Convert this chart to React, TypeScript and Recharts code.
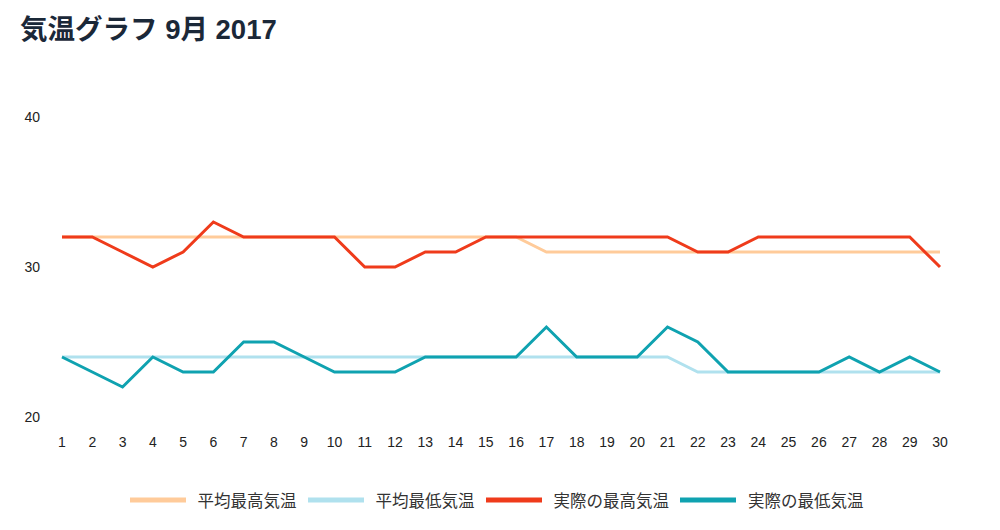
import React from 'react';
import { LineChart, Line, XAxis, YAxis, Legend } from 'recharts';

const days = Array.from({ length: 30 }, (_, i) => String(i + 1));
const avgHigh = [32, 32, 32, 32, 32, 32, 32, 32, 32, 32, 32, 32, 32, 32, 32, 32, 31, 31, 31, 31, 31, 31, 31, 31, 31, 31, 31, 31, 31, 31];
const avgLow = [24, 24, 24, 24, 24, 24, 24, 24, 24, 24, 24, 24, 24, 24, 24, 24, 24, 24, 24, 24, 24, 23, 23, 23, 23, 23, 23, 23, 23, 23];
const actualHigh = [32, 32, 31, 30, 31, 33, 32, 32, 32, 32, 30, 30, 31, 31, 32, 32, 32, 32, 32, 32, 32, 31, 31, 32, 32, 32, 32, 32, 32, 30];
const actualLow = [24, 23, 22, 24, 23, 23, 25, 25, 24, 23, 23, 23, 24, 24, 24, 24, 26, 24, 24, 24, 26, 25, 23, 23, 23, 23, 24, 23, 24, 23];
const yTicks = [20, 30, 40];

const seriesList = [
  { key: 'avgHigh', name: '平均最高気温', color: '#ffcb9a' },
  { key: 'avgLow', name: '平均最低気温', color: '#b0e1ee' },
  { key: 'actualHigh', name: '実際の最高気温', color: '#ef3b1b' },
  { key: 'actualLow', name: '実際の最低気温', color: '#0fa2b0' },
];

const chartData = days.map((d, i) => ({
  day: d,
  avgHigh: avgHigh[i],
  avgLow: avgLow[i],
  actualHigh: actualHigh[i],
  actualLow: actualLow[i],
}));

const FONT = '"Liberation Sans", "Noto Sans CJK JP", sans-serif';

const renderLegend = () => (
  <div style={{ display: 'flex', justifyContent: 'center', alignItems: 'center', height: 24 }}>
    {seriesList.map((s, i) => (
      <div key={s.key} style={{ display: 'flex', alignItems: 'center', marginLeft: i === 0 ? 0 : 11 }}>
        <svg width={56} height={6} style={{ marginRight: 12 }}>
          <line x1={0} y1={3} x2={56} y2={3} stroke={s.color} strokeWidth={5} />
        </svg>
        <span style={{ fontSize: 16.5, color: '#333', fontFamily: FONT, whiteSpace: 'nowrap' }}>{s.name}</span>
      </div>
    ))}
  </div>
);

const App: React.FC = () => {
  return (
    <div style={{ position: 'absolute', left: 0, top: 0, width: 1000, height: 530, background: '#fff', fontFamily: FONT }}>
      <div
        style={{
          position: 'absolute',
          left: 20,
          top: 14,
          fontSize: 27.5,
          lineHeight: '32px',
          fontWeight: 'bold',
          color: '#1b2838',
          zIndex: 2,
          whiteSpace: 'nowrap',
        }}
      >
        気温グラフ 9月 2017
      </div>
      <LineChart width={1000} height={530} data={chartData} margin={{ top: 117, right: 60, bottom: 18, left: 0 }}>
        <XAxis
          dataKey="day"
          height={71}
          tickLine={false}
          axisLine={false}
          tickSize={0}
          tickMargin={20}
          interval={0}
          tick={{ fontSize: 14, fill: '#222', fontFamily: FONT }}
        />
        <YAxis
          width={62}
          domain={[20, 40]}
          ticks={yTicks}
          tickLine={false}
          axisLine={false}
          tickSize={0}
          tickMargin={22}
          tick={{ fontSize: 14, fill: '#222', fontFamily: FONT }}
        />
        <Legend verticalAlign="bottom" content={renderLegend} wrapperStyle={{ height: 24, left: 0, width: 993 }} />
        {seriesList.map((s) => (
          <Line
            key={s.key}
            type="linear"
            dataKey={s.key}
            name={s.name}
            stroke={s.color}
            strokeWidth={3}
            dot={false}
            activeDot={false}
            isAnimationActive={false}
          />
        ))}
      </LineChart>
    </div>
  );
};

export default App;
